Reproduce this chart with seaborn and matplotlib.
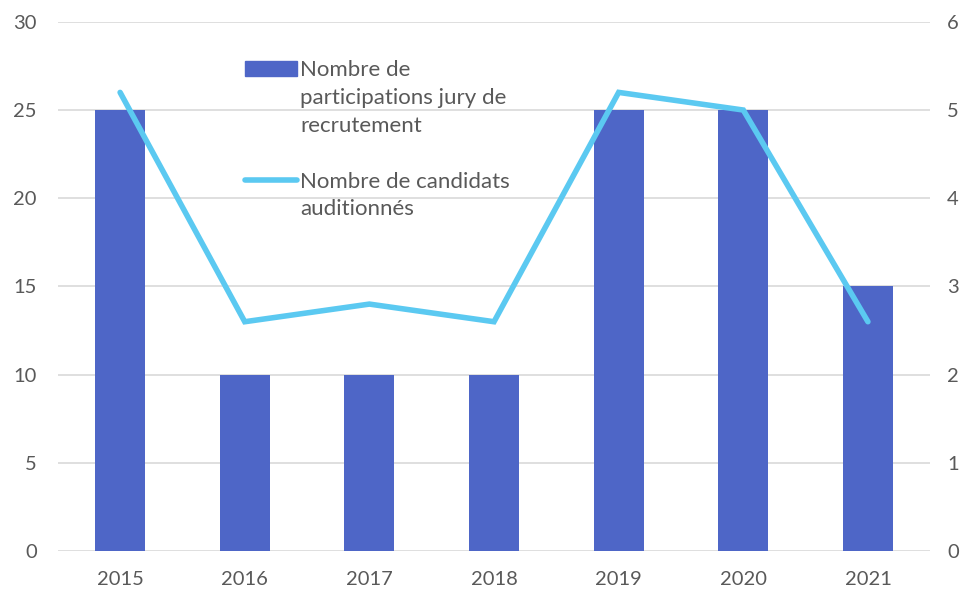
import matplotlib
matplotlib.use("Agg")
import matplotlib.pyplot as plt
import seaborn as sns
from matplotlib.patches import Patch
from matplotlib.lines import Line2D

# data
years = ["2015", "2016", "2017", "2018", "2019", "2020", "2021"]
participations = [25, 10, 10, 10, 25, 25, 15]
candidats = [5.2, 2.6, 2.8, 2.6, 5.2, 5.0, 2.6]

bar_label = ["Nombre de", "participations jury de", "recrutement"]
line_label = ["Nombre de candidats", "auditionnés"]

bar_color = "#4E66C7"
line_color = "#5BC9F1"
text_color = "#595959"

sns.set_theme(style="white")
plt.rcParams["font.family"] = ["Lato", "DejaVu Sans"]

fig = plt.figure(figsize=(9.63, 5.9), dpi=100)
ax = fig.add_axes([0.060, 0.066, 0.906, 0.897])

sns.barplot(x=years, y=participations, color=bar_color, width=0.4,
            saturation=1, linewidth=0, ax=ax, zorder=2)
ax.set_ylim(0, 30)
ax.set_yticks(range(0, 31, 5))
ax.set_xlim(-0.5, len(years) - 0.5)
ax.grid(axis="y", color="#d9d9d9", lw=1.2, zorder=0)
ax.set_axisbelow(True)
ax.set_xlabel("")
ax.set_ylabel("")

ax2 = ax.twinx()
sns.pointplot(x=years, y=candidats, color=line_color, markers="",
              ax=ax2, linewidth=4)
for ln in ax2.lines:
    ln.set_solid_capstyle("round")
    ln.set_solid_joinstyle("miter")
ax2.set_ylim(0, 6)
ax2.set_yticks(range(0, 7))
ax2.set_xlim(-0.5, len(years) - 0.5)
ax2.set_ylabel("")
ax2.grid(False)

for a in (ax, ax2):
    for s in a.spines.values():
        s.set_visible(False)
    a.tick_params(length=0, labelsize=14.5, colors=text_color)
ax.tick_params(axis="y", pad=15)
ax2.tick_params(axis="y", pad=12)
ax.tick_params(axis="x", pad=14)

# legend: one row per text line so each key sits on the first line of its label
blank = Patch(facecolor="none", edgecolor="none")
handles = [Patch(color=bar_color)] + [blank] * 2 + [blank] + \
          [Line2D([0], [0], color=line_color, lw=4, solid_capstyle="round")] + [blank]
labels = bar_label + [" "] + line_label
leg = fig.legend(handles, labels, loc="upper left",
                 bbox_to_anchor=(0.2498, 0.905), borderaxespad=0,
                 frameon=False, fontsize=16,
                 handlelength=2.35, handleheight=0.65, handletextpad=0.12,
                 labelspacing=0.35, borderpad=0.2, labelcolor=text_color)

fig.savefig("out.png", dpi=100)
